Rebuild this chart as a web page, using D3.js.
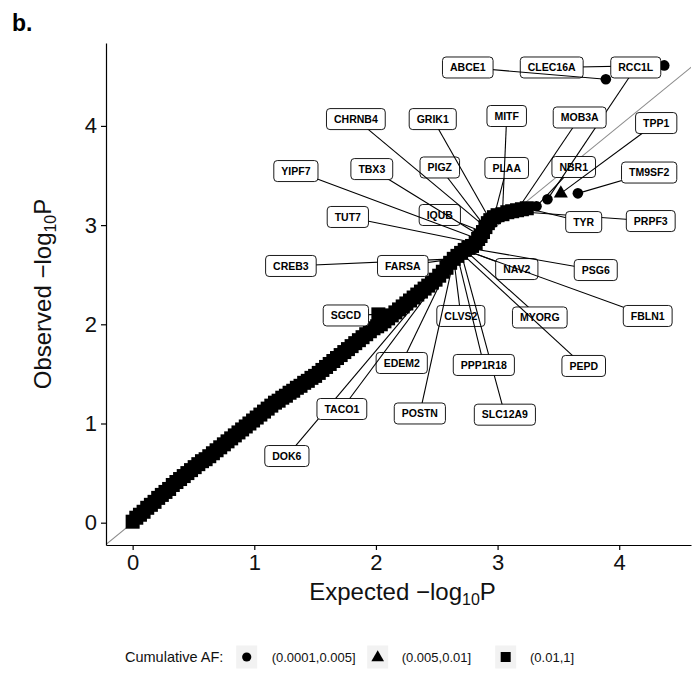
<!DOCTYPE html>
<html>
<head>
<meta charset="utf-8">
<script src="https://cdn.jsdelivr.net/npm/d3@7/dist/d3.min.js"></script>
<style>
  body { margin: 0; background: #fff; }
  svg { display: block; font-family: "Liberation Sans", Arial, Helvetica, sans-serif; }
</style>
</head>
<body>
<script>
// QQ points (expected vs observed -log10 P)
// AF (0.01,1]  -> squares, a dense band
var commonExp = [
  0.00, 0.03, 0.06, 0.09, 0.12, 0.15, 0.18, 0.21, 0.24, 0.27,
  0.30, 0.33, 0.36, 0.39, 0.42, 0.45, 0.48, 0.51, 0.54, 0.57,
  0.60, 0.63, 0.66, 0.69, 0.72, 0.75, 0.78, 0.81, 0.84, 0.87,
  0.90, 0.93, 0.96, 0.99, 1.02, 1.05, 1.08, 1.11, 1.14, 1.17,
  1.20, 1.23, 1.26, 1.29, 1.32, 1.35, 1.38, 1.41, 1.44, 1.47,
  1.50, 1.53, 1.56, 1.59, 1.62, 1.65, 1.68, 1.71, 1.74, 1.77,
  1.80, 1.83, 1.86, 1.89, 1.92, 1.95, 1.98, 2.01, 2.04, 2.07,
  2.10, 2.13, 2.16, 2.19, 2.22, 2.25, 2.28, 2.31, 2.34, 2.37,
  2.40, 2.43, 2.46, 2.49, 2.52, 2.55, 2.58, 2.61, 2.64, 2.67,
  2.70, 2.73, 2.76, 2.79, 2.82, 2.84, 2.86, 2.88, 2.90, 2.92,
  2.94, 2.97, 3.00, 3.04, 3.08, 3.12, 3.16, 3.20, 3.24, 2.02];
var commonObs = [
  0.01, 0.05, 0.08, 0.11, 0.15, 0.18, 0.21, 0.25, 0.28, 0.31,
  0.34, 0.38, 0.41, 0.44, 0.47, 0.50, 0.53, 0.56, 0.59, 0.62,
  0.64, 0.67, 0.70, 0.73, 0.76, 0.79, 0.82, 0.85, 0.88, 0.91,
  0.94, 0.97, 1.00, 1.03, 1.06, 1.09, 1.12, 1.15, 1.18, 1.21,
  1.23, 1.26, 1.28, 1.31, 1.33, 1.36, 1.38, 1.41, 1.43, 1.46,
  1.48, 1.51, 1.54, 1.57, 1.60, 1.63, 1.66, 1.69, 1.72, 1.75,
  1.78, 1.81, 1.84, 1.87, 1.90, 1.93, 1.96, 1.98, 2.00, 2.03,
  2.06, 2.09, 2.12, 2.15, 2.18, 2.21, 2.24, 2.27, 2.30, 2.33,
  2.36, 2.39, 2.42, 2.45, 2.49, 2.53, 2.57, 2.62, 2.66, 2.69,
  2.72, 2.75, 2.77, 2.79, 2.82, 2.86, 2.89, 2.93, 2.98, 3.02,
  3.05, 3.08, 3.10, 3.11, 3.13, 3.14, 3.15, 3.16, 3.17, 2.10];
// AF (0.005,0.01] -> triangles
var midExp = [3.52];
var midObs = [3.32];
// AF (0.0001,0.005] -> circles
var rareExp = [3.32, 3.41, 3.66, 3.89, 4.37];
var rareObs = [3.19, 3.26, 3.32, 4.47, 4.61];

// labelled genes and the point each one points at
var geneNames = ["CLEC16A", "PIGZ", "PLAA", "NBR1", "IQUB", "NAV2", "MYORG", "EDEM2",
  "ABCE1", "CHRNB4", "GRIK1", "MITF", "RCC1L", "MOB3A", "TPP1", "YIPF7", "TBX3", "TM9SF2",
  "TUT7", "PRPF3", "TYR", "CREB3", "FARSA", "PSG6", "FBLN1", "PEPD", "SGCD", "CLVS2",
  "SLC12A9", "PPP1R18", "DOK6", "TACO1", "POSTN"];
var geneExp = [4.37, 2.90, 2.97, 3.32, 2.88, 2.73, 2.73, 2.61,
  3.89, 2.90, 2.94, 3.04, 3.41, 3.16, 3.52, 2.84, 2.86, 3.66,
  2.82, 3.12, 3.24, 2.64, 2.64, 2.76, 2.73, 2.70, 2.02, 2.64,
  2.70, 2.67, 2.61, 2.64, 2.64];
var geneObs = [4.61, 2.98, 3.08, 3.19, 2.93, 2.75, 2.75, 2.62,
  4.47, 2.98, 3.05, 3.11, 3.26, 3.15, 3.32, 2.86, 2.89, 3.32,
  2.82, 3.14, 3.17, 2.66, 2.66, 2.77, 2.75, 2.72, 2.10, 2.66,
  2.72, 2.69, 2.62, 2.66, 2.66];

var xTicks = [0, 1, 2, 3, 4];
var yTicks = [0, 1, 2, 3, 4];
var afLevels = ["(0.0001,0.005]", "(0.005,0.01]", "(0.01,1]"];

// where the repelled labels ended up (data units), same order as geneNames
var labelAt = [[3.445, 4.589], [2.525, 3.581], [3.075, 3.576], [3.626, 3.586], [2.525, 3.102],
  [3.158, 2.557], [3.347, 2.069], [2.212, 1.610], [2.755, 4.589], [1.835, 4.069], [2.467, 4.069],
  [3.075, 4.100], [4.136, 4.589], [3.675, 4.085], [4.304, 4.029], [1.342, 3.545], [1.966, 3.565],
  [4.246, 3.530], [1.769, 3.082], [4.259, 3.041], [3.708, 3.031], [1.301, 2.588], [2.221, 2.588],
  [3.807, 2.547], [4.234, 2.084], [3.708, 1.580], [1.753, 2.089], [2.698, 2.084], [3.060, 1.089],
  [2.887, 1.590], [1.268, 0.672], [1.720, 1.146], [2.361, 1.101]];

var width = 696, height = 675;
var x = d3.scaleLinear().domain([-0.219, 4.59]).range([106, 691]);
var y = d3.scaleLinear().domain([-0.225, 4.836]).range([545, 43]);

var svg = d3.select("body").append("svg")
    .attr("width", width)
    .attr("height", height);

svg.append("text")
    .attr("x", 12).attr("y", 31)
    .attr("font-size", 23).attr("font-weight", "bold")
    .text("b.");

svg.append("clipPath").attr("id", "panel")
  .append("rect")
    .attr("x", 106).attr("y", 43).attr("width", 585).attr("height", 502);

var panel = svg.append("g").attr("clip-path", "url(#panel)");

// y = x reference
panel.append("line")
    .attr("x1", x(-1)).attr("y1", y(-1))
    .attr("x2", x(6)).attr("y2", y(6))
    .attr("stroke", "#8a8a8a").attr("stroke-width", 1.1);

var sq = 14;
panel.selectAll("rect.common")
    .data(d3.zip(commonExp, commonObs))
  .enter().append("rect")
    .attr("class", "common")
    .attr("x", function(d) { return x(d[0]) - sq / 2; })
    .attr("y", function(d) { return y(d[1]) - sq / 2; })
    .attr("width", sq).attr("height", sq)
    .attr("fill", "#000");

panel.selectAll("path.mid")
    .data(d3.zip(midExp, midObs))
  .enter().append("path")
    .attr("class", "mid")
    .attr("d", d3.symbol(d3.symbolTriangle, 85))
    .attr("transform", function(d) { return "translate(" + x(d[0]) + "," + y(d[1]) + ")"; })
    .attr("fill", "#000");

panel.selectAll("circle.rare")
    .data(d3.zip(rareExp, rareObs))
  .enter().append("circle")
    .attr("class", "rare")
    .attr("cx", function(d) { return x(d[0]); })
    .attr("cy", function(d) { return y(d[1]); })
    .attr("r", 5.3)
    .attr("fill", "#000");

// labels: segment first, then box on top (later segments cross earlier boxes)
var labels = svg.append("g");
geneNames.forEach(function(name, i) {
  var lx = x(labelAt[i][0]), ly = y(labelAt[i][1]);
  var g = labels.append("g");
  g.append("line")
      .attr("x1", lx).attr("y1", ly)
      .attr("x2", x(geneExp[i])).attr("y2", y(geneObs[i]))
      .attr("stroke", "#000").attr("stroke-width", 1.1);
  var box = g.append("rect");
  var t = g.append("text")
      .attr("x", lx).attr("y", ly + 3.8)
      .attr("text-anchor", "middle")
      .attr("font-size", 10.5).attr("font-weight", "bold")
      .attr("fill", "#000")
      .text(name);
  var w = t.node().getComputedTextLength() + 15, h = 21;
  box.attr("x", lx - w / 2).attr("y", ly - h / 2)
      .attr("width", w).attr("height", h)
      .attr("rx", 3.5)
      .attr("fill", "#fff").attr("stroke", "#000").attr("stroke-width", 0.9);
});

// axes
var yAxis = svg.append("g")
    .attr("transform", "translate(106,0)")
    .call(d3.axisLeft(y).tickValues(yTicks).tickFormat(d3.format("d")).tickSize(5).tickSizeOuter(0).tickPadding(4));
var xAxis = svg.append("g")
    .attr("transform", "translate(0,545)")
    .call(d3.axisBottom(x).tickValues(xTicks).tickFormat(d3.format("d")).tickSize(5).tickSizeOuter(0).tickPadding(4));

[xAxis, yAxis].forEach(function(a) {
  a.attr("font-family", null).attr("font-size", null);
  a.select(".domain").attr("stroke", "#000").attr("stroke-width", 1.2);
  a.selectAll(".tick line").attr("stroke", "#000").attr("stroke-width", 1.2);
  a.selectAll(".tick text").attr("font-size", 22).attr("fill", "#111");
});

function titleText(sel, word) {
  sel.append("tspan").text(word + " \u2212log");
  sel.append("tspan").attr("font-size", 16).attr("dy", 5).text("10");
  sel.append("tspan").attr("dy", -5).text("P");
}

var xt = svg.append("text")
    .attr("x", (106 + 691) / 2 + 4).attr("y", 600)
    .attr("text-anchor", "middle").attr("font-size", 24).attr("fill", "#111");
titleText(xt, "Expected");

var yt = svg.append("text")
    .attr("transform", "translate(51," + (43 + 545) / 2 + ") rotate(-90)")
    .attr("text-anchor", "middle").attr("font-size", 24).attr("fill", "#111");
titleText(yt, "Observed");

// legend
var leg = svg.append("g").attr("fill", "#111");
var legY = 657;
leg.append("text").attr("x", 125).attr("y", legY + 5).attr("font-size", 14.5).text("Cumulative AF:");
var keyX = [246.7, 377.7, 505.7], labX = [271.7, 401.7, 530];
afLevels.forEach(function(lv, i) {
  leg.append("rect")
      .attr("x", keyX[i] - 10.5).attr("y", legY - 11.5)
      .attr("width", 21).attr("height", 23)
      .attr("fill", "#f2f2f2");
  leg.append("text").attr("x", labX[i]).attr("y", legY + 5).attr("font-size", 13).text(lv);
});
leg.append("circle").attr("cx", keyX[0]).attr("cy", legY).attr("r", 4.6).attr("fill", "#000");
leg.append("path").attr("d", d3.symbol(d3.symbolTriangle, 70))
    .attr("transform", "translate(" + keyX[1] + "," + (legY + 0.5) + ")").attr("fill", "#000");
leg.append("rect").attr("x", keyX[2] - 5).attr("y", legY - 5).attr("width", 10).attr("height", 10).attr("fill", "#000");
</script>
</body>
</html>
